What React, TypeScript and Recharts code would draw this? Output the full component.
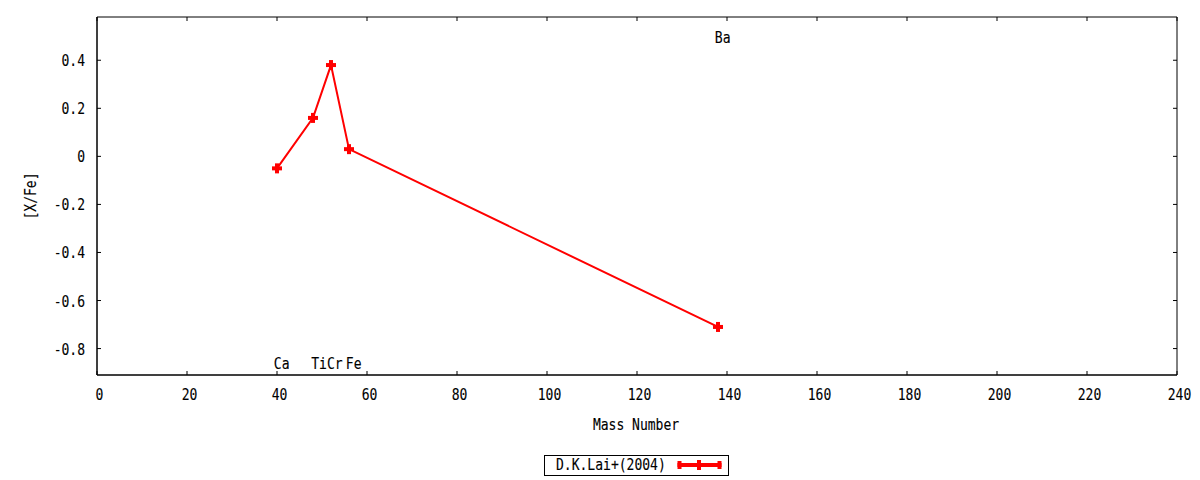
import { ComposedChart, Line, ReferenceArea, Scatter, XAxis, YAxis } from "recharts";

// abundance ratios
const massNumbers = [40, 48, 52, 56, 138];
const xFeValues = [-0.05, 0.16, 0.38, 0.03, -0.71];

// element labels (placed in data coordinates)
const labelNames = ["Ca", "Ti", "Cr", "Fe", "Ba"];
const labelMass = [39.3, 47.6, 51.1, 55.3, 137.3];
const labelY = [-0.86, -0.86, -0.86, -0.86, 0.495];

const xTicks = [0, 20, 40, 60, 80, 100, 120, 140, 160, 180, 200, 220, 240];
const yTicks = [-0.8, -0.6, -0.4, -0.2, 0, 0.2, 0.4];
const xDomain = [0, 240];
const yDomain = [-0.91, 0.58];

const seriesName = "D.K.Lai+(2004)";

const points = massNumbers.map((m, i) => ({ mass: m, y: xFeValues[i] }));
const labels = labelNames.map((n, i) => ({ mass: labelMass[i], y: labelY[i], name: n }));

const W = 1200;
const H = 480;
const TOP = 17;
const RIGHT = 1177;
const FONT = "'DejaVu Sans Mono', monospace";
const SX = 0.815;
const RED = "#ff0000";

function CText({ x, y, anchor = "start", rotate = false, children }: any) {
  const t = rotate
    ? `translate(${x},${y}) rotate(-90) scale(${SX},1)`
    : `translate(${x},${y}) scale(${SX},1)`;
  return (
    <text
      transform={t}
      x={0}
      y={0}
      textAnchor={anchor}
      fontFamily={FONT}
      fontSize={16}
      fill="#000"
      stroke="#000"
      strokeWidth={0.12}
    >
      {children}
    </text>
  );
}

const fmtY = (v: number) => (Math.abs(v) < 1e-9 ? "0" : String(Math.round(v * 10) / 10));

// ticks point inward on all four sides, like the gnuplot border
const BottomTick = (props: any) => {
  const { x, y, payload } = props;
  return (
    <g>
      <line x1={x} y1={y} x2={x} y2={y - 4} stroke="#000" />
      <line x1={x} y1={TOP} x2={x} y2={TOP + 4} stroke="#000" />
      <CText x={x + 2.5} y={y + 25} anchor="middle">{payload.value}</CText>
    </g>
  );
};

const LeftTick = (props: any) => {
  const { x, y, payload } = props;
  return (
    <g>
      <line x1={x} y1={y} x2={x + 4} y2={y} stroke="#000" />
      <line x1={RIGHT} y1={y} x2={RIGHT - 4} y2={y} stroke="#000" />
      <CText x={x - 12} y={y + 6} anchor="end">{fmtY(payload.value)}</CText>
    </g>
  );
};

const PlusDot = (props: any) => {
  const { cx, cy } = props;
  if (cx == null || cy == null) return <g />;
  return (
    <g key={`d-${cx}-${cy}`} fill={RED}>
      <rect x={cx - 5} y={cy - 2} width={10} height={4} />
      <rect x={cx - 2} y={cy - 5} width={4} height={10} />
    </g>
  );
};

const LabelShape = (props: any) => {
  const { cx, cy, payload } = props;
  return <CText x={cx} y={cy + 6}>{payload.name}</CText>;
};

export default function App() {
  return (
    <div style={{ position: "absolute", left: 0, top: 0, width: W, height: H, background: "#fff" }}>
      <ComposedChart width={W} height={H} margin={{ top: TOP, right: W - RIGHT, left: 0, bottom: 0 }}>
        <XAxis
          xAxisId="b"
          dataKey="mass"
          type="number"
          domain={xDomain}
          ticks={xTicks}
          allowDataOverflow
          height={105}
          stroke="#000"
          tickLine={false}
          tickSize={0}
          tickMargin={0}
          tick={BottomTick}
        />
        <YAxis
          yAxisId="l"
          dataKey="y"
          type="number"
          domain={yDomain}
          ticks={yTicks}
          allowDataOverflow
          width={97}
          stroke="#000"
          tickLine={false}
          tickSize={0}
          tickMargin={0}
          tick={LeftTick}
        />
        <ReferenceArea
          xAxisId="b"
          yAxisId="l"
          x1={xDomain[0]}
          x2={xDomain[1]}
          y1={yDomain[0]}
          y2={yDomain[1]}
          fill="none"
          fillOpacity={0}
          stroke="#000"
          strokeOpacity={1}
          ifOverflow="visible"
        />
        <Line
          xAxisId="b"
          yAxisId="l"
          data={points}
          dataKey="y"
          type="linear"
          stroke={RED}
          strokeWidth={2}
          dot={PlusDot}
          activeDot={false}
          isAnimationActive={false}
        />
        <Scatter
          xAxisId="b"
          yAxisId="l"
          data={labels}
          dataKey="y"
          shape={LabelShape}
          isAnimationActive={false}
        />
      </ComposedChart>
      <svg width={W} height={H} style={{ position: "absolute", left: 0, top: 0, pointerEvents: "none" }}>
        <CText x={636} y={430} anchor="middle">Mass Number</CText>
        <CText x={36} y={196} anchor="middle" rotate>[X/Fe]</CText>
        <rect x={544.5} y={455.5} width={184} height={20} fill="#fff" stroke="#000" strokeWidth={1} />
        <CText x={556} y={470}>{seriesName}</CText>
        <g fill={RED}>
          <rect x={677.5} y={463} width={44} height={4} />
          <rect x={677.5} y={461} width={4} height={8} />
          <rect x={697} y={460} width={4} height={10} />
          <rect x={717.5} y={461} width={4} height={8} />
        </g>
      </svg>
    </div>
  );
}
